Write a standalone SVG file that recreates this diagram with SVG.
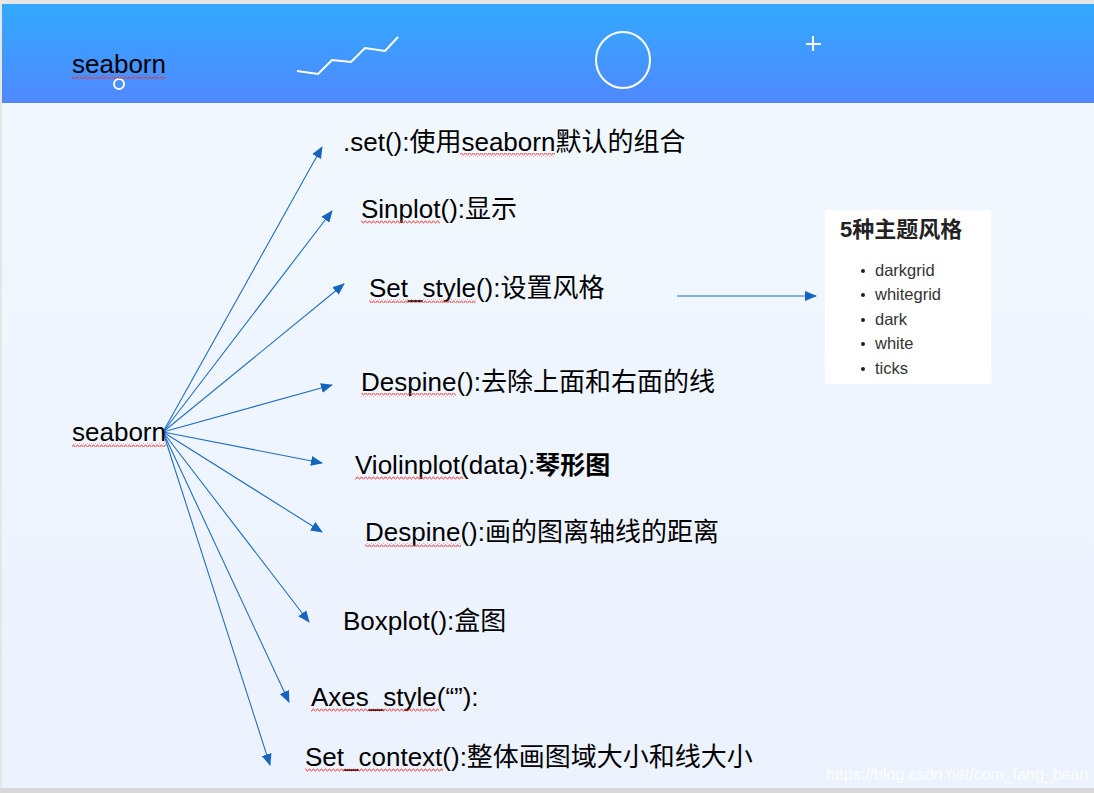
<svg xmlns="http://www.w3.org/2000/svg" width="1094" height="793" viewBox="0 0 1094 793">
<defs>
<linearGradient id="hdr" x1="0" y1="0" x2="0" y2="1"><stop offset="0" stop-color="#32aaff"/><stop offset="1" stop-color="#5088ff"/></linearGradient>
<linearGradient id="bg" x1="0" y1="0" x2="0" y2="1"><stop offset="0" stop-color="#f2f9ff"/><stop offset="1" stop-color="#ecf2fe"/></linearGradient>
<marker id="ah" markerWidth="12" markerHeight="10" refX="11" refY="5" orient="auto" markerUnits="userSpaceOnUse"><path d="M0,0 L12,5 L0,10 z" fill="#1565c0"/></marker>
<pattern id="wave" width="4" height="4" patternUnits="userSpaceOnUse"><path d="M0,3 L1,1 L2,1 L3,3 L4,3" fill="none" stroke="#e33" stroke-width="0.8"/></pattern>
</defs>
<style>
.t{font-family:"Liberation Sans","Noto Sans CJK SC",sans-serif;font-size:26px;fill:#000}
.c{stroke:#1f6fbf;stroke-width:1.1;fill:none;marker-end:url(#ah)}
.w{fill:url(#wave)}
.li{font-family:"Liberation Sans","Noto Sans CJK SC",sans-serif;font-size:16.5px;fill:#333}
</style>
<rect x="0" y="0" width="1094" height="793" fill="#e6e6e6"/>
<rect x="2" y="4" width="1092" height="784" fill="url(#bg)"/>
<rect x="2" y="4" width="1092" height="99" fill="url(#hdr)"/>
<rect x="0" y="788" width="1094" height="5" fill="#d8d8d8"/>
<g id="header-deco" fill="none" stroke="#fff" stroke-width="2">
<polyline points="297,71 318,74 332,60 351,62 365,48 385,51 398,37"/>
<ellipse cx="623" cy="60" rx="27" ry="28"/>
<circle cx="119" cy="84" r="5"/>
<path d="M813,36 V51 M806,44 H821"/>
</g>
<g id="title"><text class="t" x="72" y="73">seaborn</text><rect class="w" x="72" y="75" width="94" height="4"/></g>
<g id="connectors">
<line class="c" x1="163" y1="432" x2="322" y2="147"/>
<line class="c" x1="163" y1="432" x2="332" y2="211"/>
<line class="c" x1="163" y1="432" x2="344" y2="284"/>
<line class="c" x1="163" y1="432" x2="332" y2="385"/>
<line class="c" x1="163" y1="432" x2="322" y2="463"/>
<line class="c" x1="163" y1="432" x2="322" y2="532"/>
<line class="c" x1="163" y1="432" x2="309" y2="622"/>
<line class="c" x1="163" y1="432" x2="289" y2="702"/>
<line class="c" x1="163" y1="432" x2="270" y2="765"/>
<line class="c" x1="677" y1="296" x2="816" y2="296"/>
</g>
<g id="root"><text class="t" x="72" y="441">seaborn</text><rect class="w" x="72" y="443" width="94" height="4"/></g>
<g id="n-set"><text class="t" x="343" y="151">.set():使用seaborn默认的组合</text><rect class="w" x="460" y="153" width="95" height="4"/></g>
<g id="n-sinplot"><text class="t" x="361" y="218">Sinplot():显示</text><rect class="w" x="361" y="220" width="79" height="4"/></g>
<g id="n-setstyle"><text class="t" x="369" y="297">Set_style():设置风格</text><rect class="w" x="369" y="299" width="107" height="4"/></g>
<g id="n-despine1"><text class="t" x="361" y="391">Despine():去除上面和右面的线</text><rect class="w" x="361" y="393" width="95" height="4"/></g>
<g id="n-violin"><text class="t" x="355" y="474">Violinplot(data):<tspan font-weight="bold" font-size="25">琴形图</tspan></text><rect class="w" x="355" y="476" width="108" height="4"/></g>
<g id="n-despine2"><text class="t" x="365" y="541">Despine():画的图离轴线的距离</text><rect class="w" x="365" y="543" width="96" height="4"/></g>
<g id="n-boxplot"><text class="t" x="343" y="630">Boxplot():盒图</text></g>
<g id="n-axes"><text class="t" x="311" y="706">Axes_style(“”):</text><rect class="w" x="311" y="708" width="128" height="4"/></g>
<g id="n-context"><text class="t" x="305" y="766">Set_context():整体画图域大小和线大小</text><rect class="w" x="305" y="768" width="138" height="4"/></g>
<g id="themes">
<rect x="825" y="210" width="166" height="174" fill="#fff"/>
<text x="840" y="237" font-family="Liberation Sans,'Noto Sans CJK SC',sans-serif" font-size="22" font-weight="bold" fill="#222">5种主题风格</text>
<g fill="#222"><circle cx="863" cy="271" r="2"/><circle cx="863" cy="295" r="2"/><circle cx="863" cy="320" r="2"/><circle cx="863" cy="344" r="2"/><circle cx="863" cy="369" r="2"/></g>
<text class="li" x="875" y="276">darkgrid</text>
<text class="li" x="875" y="300">whitegrid</text>
<text class="li" x="875" y="325">dark</text>
<text class="li" x="875" y="349">white</text>
<text class="li" x="875" y="374">ticks</text>
</g>
<text x="826" y="780" font-family="Liberation Sans,sans-serif" font-size="16" fill="#ffffff" fill-opacity="0.85">https://blog.csdn.net/com_fang_bean</text>
</svg>
